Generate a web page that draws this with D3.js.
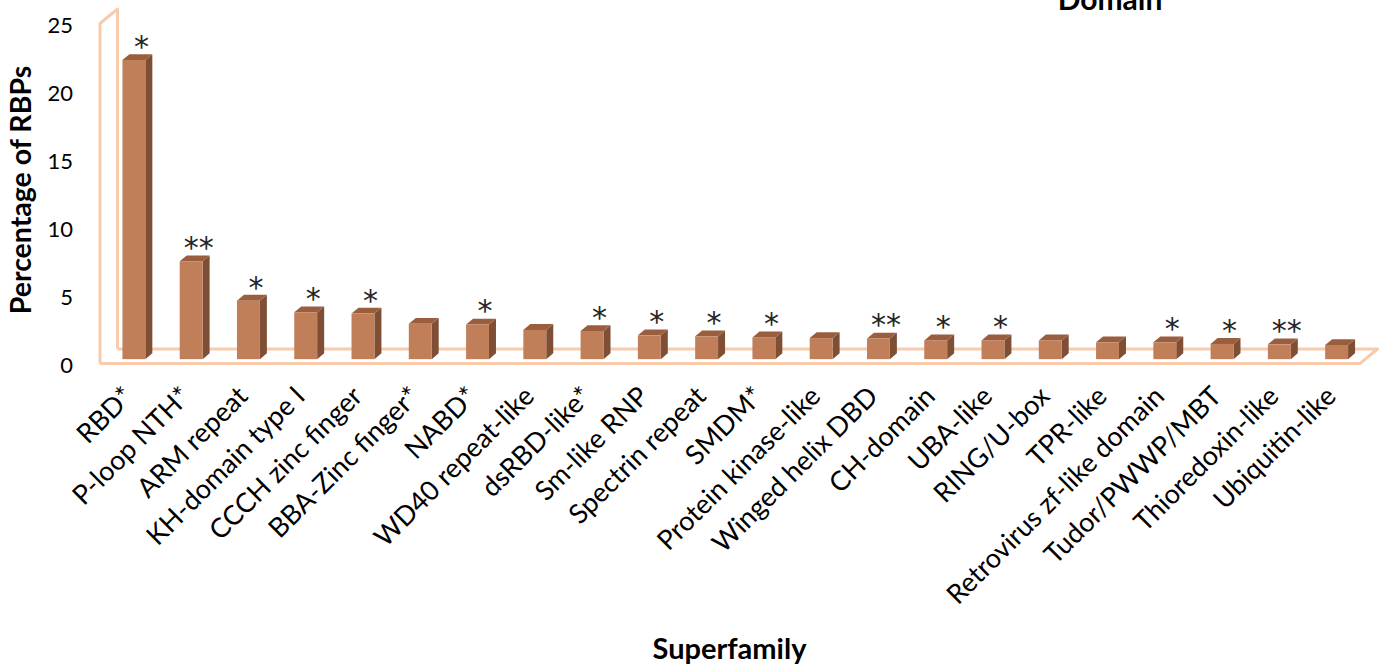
<!DOCTYPE html>
<html>
<head>
<meta charset="utf-8">
<script src="https://cdn.jsdelivr.net/npm/d3@7"></script>
<style>
  html, body { margin: 0; padding: 0; background: #fff; }
  svg { display: block; font-family: Lato, "Open Sans", sans-serif; }
</style>
</head>
<body>
<svg id="chart" width="1388" height="670"></svg>
<script>
// Share of RNA-binding proteins per structural superfamily
const categories = [
  "RBD*", "P-loop NTH*", "ARM repeat", "KH-domain type I", "CCCH zinc finger",
  "BBA-Zinc finger*", "NABD*", "WD40 repeat-like", "dsRBD-like*", "Sm-like RNP",
  "Spectrin repeat", "SMDM*", "Protein kinase-like", "Winged helix DBD", "CH-domain",
  "UBA-like", "RING/U-box", "TPR-like", "Retrovirus zf-like domain", "Tudor/PWWP/MBT",
  "Thioredoxin-like", "Ubiquitin-like"
];
const percentages = [
  22.0, 7.2, 4.3, 3.45, 3.35,
  2.6, 2.55, 2.15, 2.07, 1.75,
  1.68, 1.6, 1.55, 1.52, 1.38,
  1.38, 1.38, 1.24, 1.24, 1.12,
  1.09, 1.04
];
const significance = [
  "*", "**", "*", "*", "*",
  "", "*", "", "*", "*",
  "*", "*", "", "**", "*",
  "*", "", "", "*", "*",
  "**", ""
];
const yTicks = [0, 5, 10, 15, 20, 25];

const svg = d3.select("#chart");

// front edge of the floor and the depth vector of the 3-D box
const floorLeft = 100, floorRight = 1360, floorY = 363.5;
const depth = { x: 17.5, y: -14.5 };
const barFrontAt = 0.3, barDepth = 0.4;

const y = d3.scaleLinear().domain([0, 25]).range([floorY, 23.5]);

const x = d3.scaleBand()
  .domain(categories)
  .range([floorLeft + depth.x * barFrontAt, floorRight + depth.x * barFrontAt])
  .paddingInner(0.6)
  .paddingOuter(0.3);

const wallColor = "#F8CBAD";

// left wall and floor outlines
const backX = floorLeft + depth.x;
const frame = svg.append("g")
  .attr("fill", "none")
  .attr("stroke", wallColor)
  .attr("stroke-width", 3)
  .attr("stroke-linejoin", "round");

frame.append("path").attr("d", d3.line()([
  [floorLeft, floorY], [floorLeft, y(25)],
  [backX, y(25) + depth.y], [backX, floorY + depth.y]
]));
frame.append("path").attr("d", d3.line()([
  [floorLeft, floorY], [floorRight, floorY],
  [floorRight + depth.x, floorY + depth.y], [backX, floorY + depth.y]
]));

// 3-D columns
const off = { x: depth.x * barDepth, y: depth.y * barDepth };
const shift = depth.y * barFrontAt;
const bw = x.bandwidth();
const bars = svg.append("g").selectAll("g")
  .data(categories.map((c, i) => ({ c, v: percentages[i], s: significance[i] })))
  .join("g");

bars.append("path")
  .attr("fill", "#7E4F35")
  .attr("d", d => {
    const x0 = x(d.c) + bw, t = y(d.v) + shift, b = y(0) + shift;
    return d3.line()([[x0, t], [x0 + off.x, t + off.y], [x0 + off.x, b + off.y], [x0, b]]) + "Z";
  });
bars.append("path")
  .attr("fill", "#9A5E3E")
  .attr("d", d => {
    const x0 = x(d.c), t = y(d.v) + shift;
    return d3.line()([[x0, t], [x0 + off.x, t + off.y], [x0 + bw + off.x, t + off.y], [x0 + bw, t]]) + "Z";
  });
bars.append("rect")
  .attr("fill", "#C17F59")
  .attr("x", d => x(d.c))
  .attr("y", d => y(d.v) + shift)
  .attr("width", bw)
  .attr("height", d => y(0) - y(d.v));

// significance marks above the columns
bars.append("text")
  .attr("x", d => x(d.c) + bw / 2 + 7.5)
  .attr("y", d => y(d.v) + shift - 3)
  .attr("text-anchor", "middle")
  .attr("font-family", "DejaVu Sans, sans-serif")
  .attr("font-size", 30)
  .attr("fill", "#262626")
  .text(d => d.s);

// value axis
const yAxis = svg.append("g")
  .attr("transform", `translate(${floorLeft},1.5)`)
  .call(d3.axisLeft(y).tickValues(yTicks).tickSize(0).tickPadding(27));
yAxis.select(".domain").remove();
yAxis.selectAll("text")
  .attr("font-family", "Lato, sans-serif")
  .attr("font-size", 22)
  .attr("fill", "#000");

// category labels, slanted
svg.append("g").selectAll("text")
  .data(categories)
  .join("text")
  .attr("transform", d => `translate(${x(d) + bw / 2 + 1},398) rotate(-45)`)
  .attr("text-anchor", "end")
  .attr("font-size", 27)
  .attr("fill", "#000")
  .text(d => d);

// titles
svg.append("text")
  .attr("x", 729.5).attr("y", 659)
  .attr("text-anchor", "middle")
  .attr("font-weight", 700).attr("font-size", 29)
  .text("Superfamily");
svg.append("text")
  .attr("transform", "translate(31,190) rotate(-90)")
  .attr("text-anchor", "middle")
  .attr("font-weight", 700).attr("font-size", 28.5)
  .text("Percentage of RBPs");
svg.append("text")
  .attr("x", 1110).attr("y", 10)
  .attr("text-anchor", "middle")
  .attr("font-weight", 700).attr("font-size", 30)
  .text("Domain");
</script>
</body>
</html>
